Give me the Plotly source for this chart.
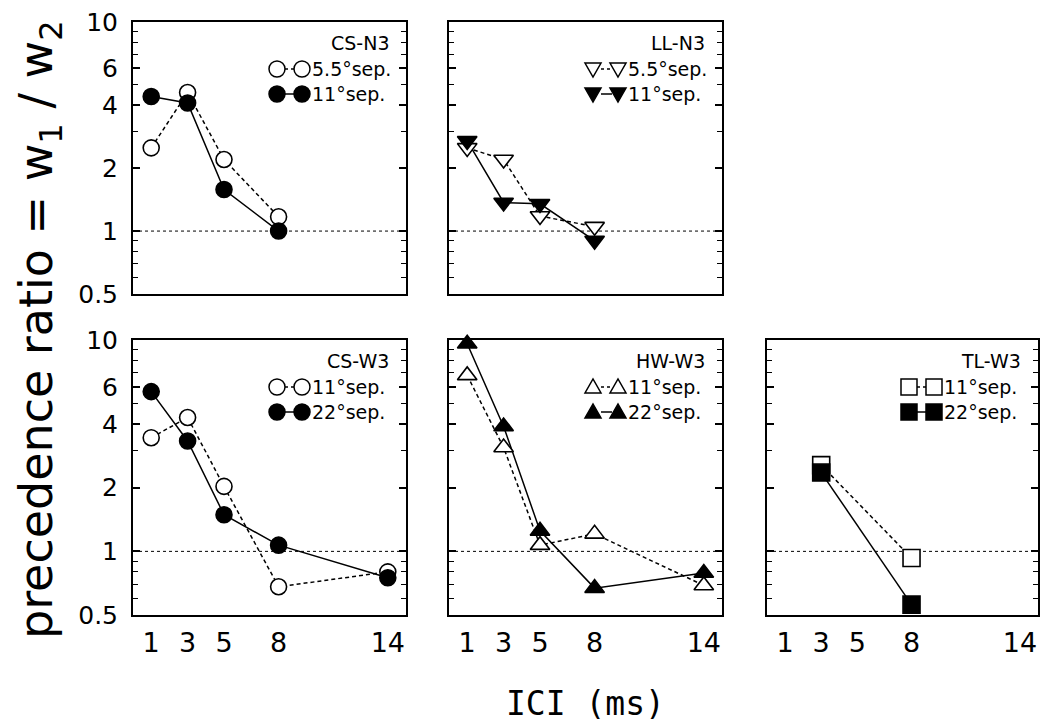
import math
import plotly.graph_objects as go

W, H = 1050, 726
OFF = 8  # page body margin compensation (px)

# ---------------- data ----------------
ici_ticks = [1, 3, 5, 8, 14]
ratio_ticks = [0.5, 1, 2, 4, 6, 10]
ratio_minor = [0.6, 0.7, 0.8, 0.9, 3, 5, 7, 8, 9]
reference_ratio = 1.0
x_range = [0, 15]

cs_n3_ici = [1, 3, 5, 8]
cs_n3_55 = [2.5, 4.6, 2.2, 1.17]
cs_n3_11 = [4.4, 4.1, 1.58, 1.0]

ll_n3_ici = [1, 3, 5, 8]
ll_n3_55 = [2.5, 2.2, 1.18, 1.05]
ll_n3_11 = [2.7, 1.37, 1.35, 0.9]

cs_w3_ici = [1, 3, 5, 8, 14]
cs_w3_11 = [3.45, 4.3, 2.03, 0.68, 0.8]
cs_w3_22 = [5.7, 3.33, 1.49, 1.07, 0.75]

hw_w3_ici = [1, 3, 5, 8, 14]
hw_w3_11 = [6.8, 3.1, 1.07, 1.21, 0.69]
hw_w3_22 = [9.6, 3.9, 1.25, 0.67, 0.79]

tl_w3_ici = [3, 8]
tl_w3_11 = [2.56, 0.93]
tl_w3_22 = [2.36, 0.56]

# ---------------- layout geometry ----------------
cols = [(133, 406), (449, 722), (767, 1038)]
rows = [(22, 294), (340, 615)]

panels = [
    dict(title="CS-N3", r=0, c=0, x=cs_n3_ici, a=cs_n3_55, b=cs_n3_11,
         la="5.5°sep.", lb="11°sep.", sym="circle"),
    dict(title="LL-N3", r=0, c=1, x=ll_n3_ici, a=ll_n3_55, b=ll_n3_11,
         la="5.5°sep.", lb="11°sep.", sym="triangle-down"),
    dict(title="CS-W3", r=1, c=0, x=cs_w3_ici, a=cs_w3_11, b=cs_w3_22,
         la="11°sep.", lb="22°sep.", sym="circle"),
    dict(title="HW-W3", r=1, c=1, x=hw_w3_ici, a=hw_w3_11, b=hw_w3_22,
         la="11°sep.", lb="22°sep.", sym="triangle-up"),
    dict(title="TL-W3", r=1, c=2, x=tl_w3_ici, a=tl_w3_11, b=tl_w3_22,
         la="11°sep.", lb="22°sep.", sym="square"),
]

msize = {"circle": 16, "triangle-down": 17, "triangle-up": 17, "square": 17}
FONT = "DejaVu Sans"
SMALL = 19


def px(v):
    return (v - OFF) / W


def py(v):
    return 1 - (v - OFF) / H


fig = go.Figure()
shapes = []
annotations = []
layout_axes = {}

for i, p in enumerate(panels, start=1):
    xs = "" if i == 1 else str(i)
    xref, yref = "x" + xs, "y" + xs
    x0p, x1p = cols[p["c"]]
    y0p, y1p = rows[p["r"]]
    xdom = [px(x0p), px(x1p)]
    ydom = [py(y1p), py(y0p)]

    # reference line at ratio 1
    fig.add_trace(go.Scatter(x=x_range, y=[reference_ratio] * 2, mode="lines",
                             line=dict(color="black", width=1, dash="dot"),
                             xaxis=xref, yaxis=yref, showlegend=False,
                             hoverinfo="skip"))
    # connecting lines
    fig.add_trace(go.Scatter(x=p["x"], y=p["a"], mode="lines",
                             line=dict(color="black", width=1.5, dash="4px,3px"),
                             xaxis=xref, yaxis=yref, showlegend=False))
    fig.add_trace(go.Scatter(x=p["x"], y=p["b"], mode="lines",
                             line=dict(color="black", width=1.5),
                             xaxis=xref, yaxis=yref, showlegend=False))
    # markers
    fig.add_trace(go.Scatter(x=p["x"], y=p["a"], mode="markers",
                             marker=dict(symbol=p["sym"], size=msize[p["sym"]],
                                         color="white",
                                         line=dict(color="black", width=1.6)),
                             xaxis=xref, yaxis=yref, showlegend=False,
                             cliponaxis=False))
    fig.add_trace(go.Scatter(x=p["x"], y=p["b"], mode="markers",
                             marker=dict(symbol=p["sym"], size=msize[p["sym"]],
                                         color="black",
                                         line=dict(color="black", width=1.6)),
                             xaxis=xref, yaxis=yref, showlegend=False,
                             cliponaxis=False))

    bottom = p["r"] == 1
    left = p["c"] == 0
    layout_axes["xaxis" + xs] = dict(
        domain=xdom, range=x_range, anchor=yref, automargin=False,
        ticklabeloverflow="allow",
        showline=True, linecolor="black", linewidth=2, mirror=True,
        ticks="", tickvals=ici_ticks, ticktext=[str(v) for v in ici_ticks],
        showticklabels=bottom, ticklabelstandoff=3,
        tickfont=dict(family=FONT, size=27, color="black"),
        showgrid=False, zeroline=False, fixedrange=True)
    layout_axes["yaxis" + xs] = dict(
        domain=ydom, type="log", range=[math.log10(0.5), 1], anchor=xref,
        automargin=False, ticklabeloverflow="allow",
        showline=True, linecolor="black", linewidth=2, mirror="ticks",
        ticks="inside", ticklen=7, tickwidth=1.5, tickcolor="black",
        tickvals=ratio_ticks, ticktext=[str(v) for v in ratio_ticks],
        showticklabels=left, ticklabelstandoff=8,
        tickfont=dict(family=FONT, size=25, color="black"),
        minor=dict(tickvals=ratio_minor, ticks="inside", ticklen=5,
                   tickwidth=1.2, tickcolor="black", showgrid=False),
        showgrid=False, zeroline=False, fixedrange=True)

    # panel title + legend
    R = px(x1p)
    T = py(y0p)
    annotations.append(dict(text=p["title"], xref="paper", yref="paper",
                            x=R, y=T, xanchor="right", yanchor="middle",
                            xshift=-15, yshift=-21, showarrow=False,
                            font=dict(family=FONT, size=SMALL, color="black")))
    for k, (lab, fill, dash) in enumerate([(p["la"], "white", "dot"),
                                           (p["lb"], "black", "solid")]):
        cy = -47 - 25 * k
        annotations.append(dict(text=lab, xref="paper", yref="paper",
                                x=R, y=T, xanchor="left", yanchor="middle",
                                xshift=-96, yshift=cy, showarrow=False,
                                font=dict(family=FONT, size=SMALL,
                                          color="black")))
        base = dict(xref="paper", yref="paper", xsizemode="pixel",
                    ysizemode="pixel", xanchor=R, yanchor=T)
        shapes.append(dict(base, type="line", x0=-121, x1=-110, y0=cy, y1=cy,
                           line=dict(color="black", width=1.5, dash=dash)))
        for cx in (-129, -104):
            if p["sym"] == "circle":
                shapes.append(dict(base, type="circle", x0=cx - 8, x1=cx + 8,
                                   y0=cy - 8, y1=cy + 8, fillcolor=fill,
                                   line=dict(color="black", width=1.5)))
            elif p["sym"] == "square":
                shapes.append(dict(base, type="rect", x0=cx - 8, x1=cx + 8,
                                   y0=cy - 8, y1=cy + 8, fillcolor=fill,
                                   line=dict(color="black", width=1.5)))
            else:
                s = 1 if p["sym"] == "triangle-up" else -1
                path = (f"M {cx-8},{cy - s*6} L {cx+8},{cy - s*6} "
                        f"L {cx},{cy + s*8} Z")
                shapes.append(dict(base, type="path", path=path, fillcolor=fill,
                                   line=dict(color="black", width=1.5)))

# axis titles
annotations.append(dict(text="ICI (ms)", xref="paper", yref="paper",
                        x=px(585), y=py(703), xanchor="center",
                        yanchor="middle", showarrow=False,
                        font=dict(family="DejaVu Sans Mono", size=33,
                                  color="black")))
annotations.append(dict(text="precedence ratio = w<sub>1</sub> / w<sub>2</sub>",
                        xref="paper", yref="paper", x=px(40), y=py(330),
                        xanchor="center", yanchor="middle", textangle=-90,
                        showarrow=False,
                        font=dict(family=FONT, size=46, color="black")))

fig.update_layout(width=W, height=H, margin=dict(l=0, r=0, t=0, b=0,
                                                 autoexpand=False),
                  paper_bgcolor="white", plot_bgcolor="white",
                  showlegend=False, shapes=shapes, annotations=annotations,
                  **layout_axes)

fig.write_html("out.html")
